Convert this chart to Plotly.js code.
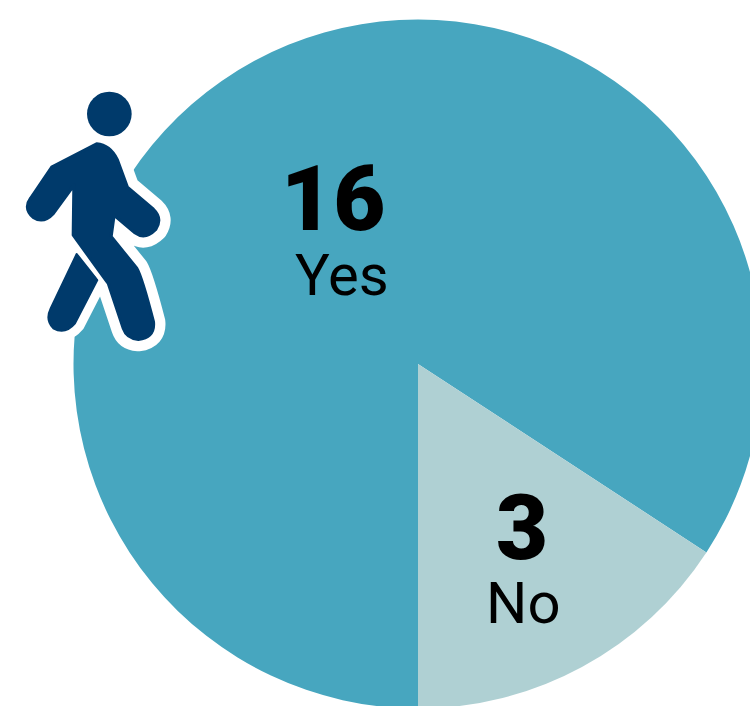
<!DOCTYPE html>
<html>
<head>
<meta charset="utf-8">
<script src="https://cdn.plot.ly/plotly-3.0.1.min.js"></script>
<style>html,body{margin:0;padding:0;background:#fff;width:750px;height:706px;overflow:hidden}</style>
</head>
<body>
<div id="chart"></div>
<script>
const labels = ["Yes", "No"];
const values = [16, 3];
const colors = ["#47a6bf", "#afd0d3"];

// canvas is larger than the window because the reference crops the pie on the right and bottom
const W = 836, H = 760;
const cx = 418, cy = 364, r = 344.5;
const px = x => x / W, py = y => 1 - y / H;

const body = "M260,192 Q300,195 322,240 L352,322 L430,388 Q458,415 437,448 Q405,480 375,458 L312,405 L303,470 L380,565 Q395,590 430,725 Q435,772 385,778 Q350,775 340,745 L295,610 Q280,590 190,465 L192,315 L130,400 Q100,432 70,412 Q40,385 62,355 L125,262 Z";
const leg = "M200,522 L262,600 L195,730 Q165,765 130,745 Q105,720 122,685 Z";
const navy = "#003a6b";
const icon = `<svg xmlns="http://www.w3.org/2000/svg" width="180" height="280" viewBox="0 0 540 840">
<path d="${body}" fill="#fff" stroke="#fff" stroke-width="72" stroke-linejoin="round"/>
<path d="${leg}" fill="#fff" stroke="#fff" stroke-width="60" stroke-linejoin="round"/>
<path d="${leg}" fill="${navy}" stroke="${navy}" stroke-width="6" stroke-linejoin="round"/>
<path d="${body}" fill="#fff" stroke="#fff" stroke-width="34" stroke-linejoin="round"/>
<path d="${body}" fill="${navy}" stroke="${navy}" stroke-width="10" stroke-linejoin="round"/>
<circle cx="298" cy="102" r="67" fill="${navy}"/>
</svg>`;

const font = "Roboto, Arial, sans-serif";
function note(text, x, y, size, weight) {
  return {text, x: px(x), y: py(y), xref: "paper", yref: "paper", xanchor: "center", yanchor: "middle",
    showarrow: false, font: {family: font, size, color: "#000", weight}};
}

Plotly.newPlot("chart", [{
  type: "pie",
  labels, values, sort: false, direction: "clockwise", rotation: 180,
  textinfo: "none", hoverinfo: "skip",
  marker: {colors, line: {width: 0}},
  domain: {x: [px(cx - r), px(cx + r)], y: [py(cy + r), py(cy - r)]}
}], {
  width: W, height: H, autosize: false,
  margin: {l: 0, r: 0, t: 0, b: 0, pad: 0},
  paper_bgcolor: "#fff", showlegend: false,
  images: [{
    source: "data:image/svg+xml;charset=utf-8," + encodeURIComponent(icon),
    xref: "paper", yref: "paper", x: px(10), y: py(80), sizex: 180 / W, sizey: 280 / H,
    xanchor: "left", yanchor: "top", sizing: "stretch", layer: "above"
  }],
  annotations: [
    note(String(values[0]), 333, 199, 90, 900),
    note(labels[0], 342, 275, 58, 400),
    note(String(values[1]), 522, 528, 90, 900),
    note(labels[1], 523, 603, 58, 400)
  ]
}, {displayModeBar: false, staticPlot: true});
</script>
</body>
</html>
